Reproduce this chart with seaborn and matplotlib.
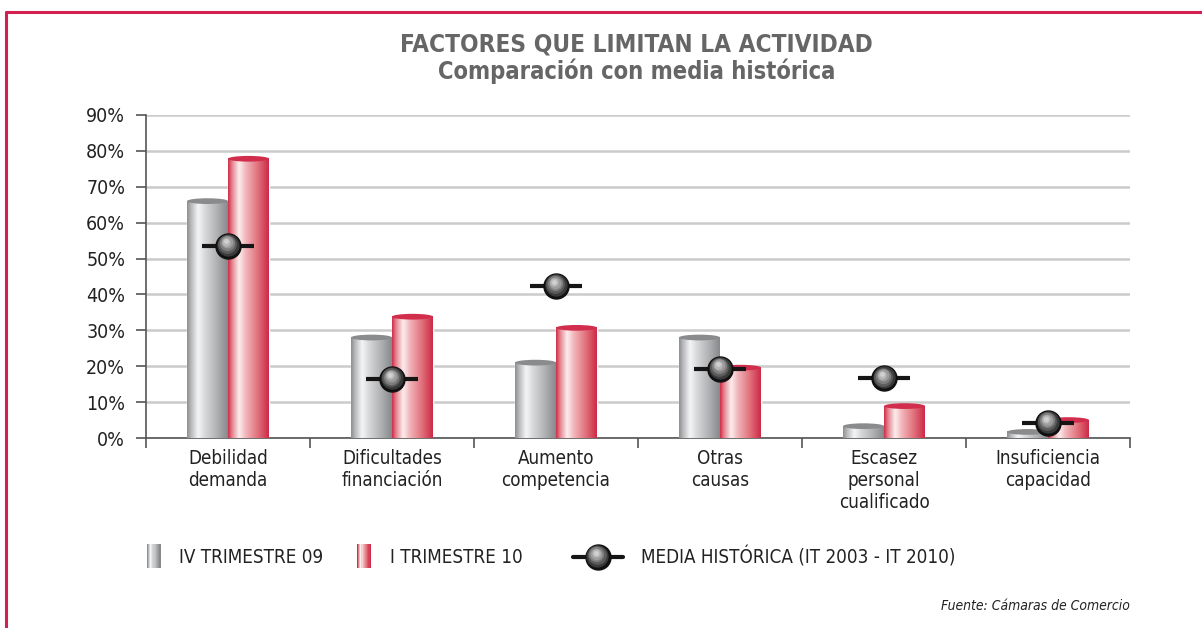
import numpy as np
import pandas as pd
import matplotlib
matplotlib.use("Agg")
import matplotlib.pyplot as plt
import matplotlib.transforms as mtransforms
from matplotlib.patches import Ellipse, Rectangle
from matplotlib.lines import Line2D
from matplotlib.colors import LinearSegmentedColormap
from matplotlib.legend_handler import HandlerBase
import seaborn as sns

# Datos
factores = ['Debilidad\ndemanda', 'Dificultades\nfinanciación', 'Aumento\ncompetencia',
            'Otras\ncausas', 'Escasez\npersonal\ncualificado', 'Insuficiencia\ncapacidad']
iv_trimestre_09 = [66.0, 28.0, 21.0, 28.0, 3.3, 1.7]
i_trimestre_10 = [77.8, 33.8, 30.7, 19.6, 8.9, 5.0]
media_historica = [53.6, 16.4, 42.4, 19.3, 16.6, 4.2]
series = ['IV TRIMESTRE 09', 'I TRIMESTRE 10']
y_ticks = [0, 10, 20, 30, 40, 50, 60, 70, 80, 90]

grey_grad = [(0, '#8d8e90'), (0.1, '#b9babc'), (0.27, '#f5f5f6'), (0.45, '#d6d7d9'),
             (0.75, '#aeafb1'), (1, '#88898c')]
red_grad = [(0, '#cf2c48'), (0.1, '#e58590'), (0.27, '#fdeeee'), (0.45, '#f0b2b6'),
            (0.75, '#e06c78'), (1, '#cc2a46')]
top_cols = {'grey': '#8a8b8d', 'red': '#d12e4d'}

df = pd.DataFrame({
    'factor': factores * 2,
    'valor': iv_trimestre_09 + i_trimestre_10,
    'serie': [series[0]] * 6 + [series[1]] * 6,
})

sns.set_style('white')
plt.rcParams['font.family'] = ['DejaVu Sans']
plt.rcParams['font.stretch'] = 'condensed'

fig = plt.figure(figsize=(12.02, 6.28), dpi=100)
ax = fig.add_axes([0.1215, 0.3025, 0.8186, 0.5144])

sns.barplot(data=df, x='factor', y='valor', hue='serie', palette=['#a8a9ab', '#dc5a6a'],
            width=0.5, gap=0, ax=ax, legend=False, saturation=1, zorder=2)

ax.set_xlim(-0.5, 5.5)
ax.set_ylim(0, 90)

# degradado tipo cilindro sobre cada barra
grey_cmap = LinearSegmentedColormap.from_list('g', grey_grad)
red_cmap = LinearSegmentedColormap.from_list('r', red_grad)
grad = np.linspace(0, 1, 200).reshape(1, -1)
for i, p in enumerate(ax.patches[:12]):
    x0, w, h = p.get_x(), p.get_width(), p.get_height()
    es_gris = i < 6
    cmap = grey_cmap if es_gris else red_cmap
    ax.imshow(grad, cmap=cmap, extent=[x0, x0 + w, 0, h], aspect='auto', zorder=3,
              interpolation='bicubic')
    ax.add_patch(Ellipse((x0 + w / 2, h), w, 1.6,
                         facecolor=top_cols['grey' if es_gris else 'red'],
                         edgecolor='none', zorder=4))
ax.set_xlim(-0.5, 5.5)
ax.set_ylim(0, 90)

# media historica: linea + esfera
xs = np.arange(len(factores))
ax.plot(xs, media_historica, linestyle='none', marker='_', markersize=38,
        markeredgewidth=3, color='#151515', zorder=5)
ax.plot(xs, media_historica, linestyle='none', marker='o', markersize=18,
        color='#101010', zorder=6)
capas = [(15, '#3a3a3a', 0.7), (12.5, '#5c5c5c', 1.3), (10, '#7e7e7e', 1.9),
         (7.5, '#9c9c9c', 2.4), (5, '#b8b8b8', 2.8), (2.5, '#d0d0d0', 3.1)]
for ms, col, off in capas:
    tr = mtransforms.offset_copy(ax.transData, fig=fig, x=-off * 0.4, y=off, units='points')
    ax.plot(xs, media_historica, linestyle='none', marker='o', markersize=ms,
            color=col, transform=tr, zorder=7)

# ejes
ax.set_yticks(y_ticks)
ax.set_yticklabels([f'{v}%' for v in y_ticks])
ax.set_xlabel('')
ax.set_ylabel('')
ax.grid(axis='y', color='#cbcbcb', linewidth=1.8)
ax.grid(axis='x', visible=False)
ax.set_axisbelow(True)
for s in ['top', 'right']:
    ax.spines[s].set_visible(False)
for s in ['left', 'bottom']:
    ax.spines[s].set_color('#555555')
    ax.spines[s].set_linewidth(1.2)
ax.tick_params(axis='y', length=7, width=1.2, color='#555555', labelsize=14,
               labelcolor='#222222', pad=8, left=True)
ax.set_xticks(xs)
ax.set_xticklabels(factores, fontsize=13.5, color='#222222', linespacing=1.2)
ax.set_xticks(np.arange(-0.5, 6.0, 1.0), minor=True)
ax.tick_params(axis='x', which='major', length=0, pad=8)
ax.tick_params(axis='x', which='minor', length=7, width=1.2, color='#555555', bottom=True)

# titulo
fig.text(0.5295, 0.929, 'FACTORES QUE LIMITAN LA ACTIVIDAD', ha='center', va='center',
         fontsize=17.5, fontweight='bold', color='#666666')
fig.text(0.5295, 0.887, 'Comparación con media histórica', ha='center', va='center',
         fontsize=17, fontweight='bold', color='#666666')

# leyenda
class GradHandler(HandlerBase):
    def __init__(self, colors, sw=10):
        super().__init__()
        self.cmap = LinearSegmentedColormap.from_list('h', colors)
        self.sw = sw

    def create_artists(self, legend, orig_handle, xdescent, ydescent, width, height,
                       fontsize, trans):
        n = 12
        x_start = -xdescent + width - self.sw
        w = self.sw / n
        arts = []
        for k in range(n):
            arts.append(Rectangle((x_start + k * w, -ydescent - 2.5), w * 1.1, height + 5,
                                  facecolor=self.cmap(k / (n - 1)), edgecolor='none',
                                  transform=trans))
        return arts


class SphereHandler(HandlerBase):
    def create_artists(self, legend, orig_handle, xdescent, ydescent, width, height,
                       fontsize, trans):
        cy = -ydescent + height / 2
        arts = [Line2D([-xdescent, -xdescent + width], [cy, cy], color='#151515', lw=3,
                       transform=trans)]
        cx = -xdescent + width / 2
        arts.append(Line2D([cx], [cy], marker='o', markersize=18, color='#101010',
                           linestyle='none', transform=trans))
        for ms, col, off in capas:
            arts.append(Line2D([cx - off * 0.4], [cy + off], marker='o', markersize=ms,
                               color=col, linestyle='none', transform=trans))
        return arts


h_grey = Rectangle((0, 0), 1, 1)
h_red = Rectangle((0, 0), 1, 1, facecolor='red')
h_media = Line2D([], [])
leg_kw = dict(frameon=False, fontsize=13.5, handlelength=2.67, handleheight=1.0,
              handletextpad=1.0, borderpad=0, labelcolor='#222222')
fig.legend([h_grey], [series[0]], handler_map={h_grey: GradHandler(grey_grad)},
           loc='center left', bbox_to_anchor=(0.084, 0.113), **leg_kw)
fig.legend([h_red], [series[1]], handler_map={h_red: GradHandler(red_grad)},
           loc='center left', bbox_to_anchor=(0.259, 0.113), **leg_kw)
fig.legend([h_media], ['MEDIA HISTÓRICA (IT 2003 - IT 2010)'],
           handler_map={h_media: SphereHandler()},
           loc='center left', bbox_to_anchor=(0.4685, 0.113), **leg_kw)

fig.text(0.940, 0.035, 'Fuente: Cámaras de Comercio', ha='right', va='center',
         fontsize=10, style='italic', color='#222222')

# marco
fig.add_artist(Line2D([0.005, 1.0], [0.981, 0.981], color='#d42050', lw=2.2,
                      transform=fig.transFigure))
fig.add_artist(Line2D([0.005, 0.005], [0.0, 0.981], color='#d42050', lw=2.2,
                      transform=fig.transFigure))

plt.savefig('out.png', dpi=100)
